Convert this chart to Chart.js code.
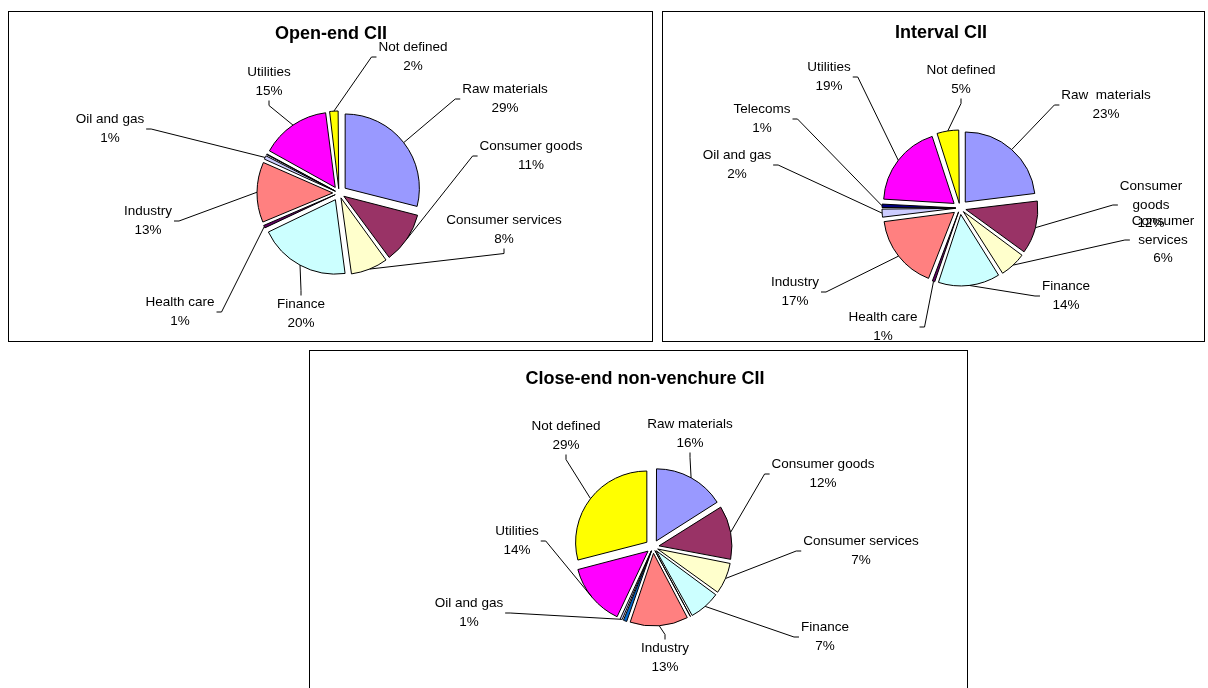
<!DOCTYPE html>
<html><head><meta charset="utf-8">
<script src="https://cdn.jsdelivr.net/npm/chart.js@4.4.1/dist/chart.umd.min.js"></script>
<style>
html,body{margin:0;padding:0;background:#fff;width:1208px;height:688px;overflow:hidden;}
.box{position:absolute;border:1px solid #000;box-sizing:border-box;}
canvas{position:absolute;left:0;top:0;}
</style></head><body>
<div class="box" style="left:8px;top:11px;width:645px;height:331px"></div>
<div class="box" style="left:662px;top:11px;width:543px;height:331px"></div>
<div class="box" style="left:309px;top:350px;width:659px;height:360px"></div>
<canvas id="c1" width="1208" height="688"></canvas>
<canvas id="c2" width="1208" height="688"></canvas>
<canvas id="c3" width="1208" height="688"></canvas>
<script>
// ---------- data ----------
const categories = ["Raw materials","Consumer goods","Consumer services","Finance","Health care","Industry","IT","Oil and gas","Telecoms","Utilities","Not defined"];
const openEndValues  = [29, 11, 8, 20, 0.8, 13, 0, 1, 0.4, 15, 2];
const intervalValues = [23, 12, 6, 14, 0.8, 17, 0, 2, 1, 19, 5];
const closeEndValues = [16, 12, 7, 7, 0.2, 13, 1, 0.7, 0, 14, 29];
const chartTitles = ["Open-end CII", "Interval CII", "Close-end non-venchure CII"];

// ---------- style / layout ----------
const sliceColors = ["#9999FF","#993366","#FFFFCC","#CCFFFF","#660066","#FF8080","#0066CC","#CCCCFF","#000080","#FF00FF","#FFFF00"];
const FONT = '"Liberation Sans", Arial, sans-serif';
const EXPLODE = 8;
const LH = 18.5;

const openEndLabels = [
  {i:10, x:413, y:57, side:'left'},
  {i:0, x:505, y:99, side:'left'},
  {i:1, x:531, y:156, side:'left'},
  {i:2, x:504, y:230, side:'bottom'},
  {i:3, x:301, y:314, side:'top'},
  {i:4, x:180, y:312, side:'right'},
  {i:5, x:148, y:221, side:'right'},
  {i:7, x:110, y:129, side:'right'},
  {i:9, x:269, y:82, side:'bottom'}
];
const intervalLabels = [
  {i:9, x:829, y:77, side:'right'},
  {i:10, x:961, y:80, side:'bottom'},
  {i:0, x:1106, y:105, side:'left', text:'Raw  materials'},
  {i:8, x:762, y:119, side:'right'},
  {i:7, x:737, y:165, side:'right'},
  {i:1, x:1151, y:205, side:'left', wrap:true},
  {i:2, x:1163, y:240, side:'left', wrap:true},
  {i:3, x:1066, y:296, side:'left'},
  {i:5, x:795, y:292, side:'right'},
  {i:4, x:883, y:327, side:'right'}
];
const closeEndLabels = [
  {i:10, x:566, y:436, side:'bottom'},
  {i:0, x:690, y:434, side:'bottom'},
  {i:1, x:823, y:474, side:'left'},
  {i:2, x:861, y:551, side:'left'},
  {i:3, x:825, y:637, side:'left'},
  {i:5, x:665, y:658, side:'top'},
  {i:9, x:517, y:541, side:'right'},
  {i:7, x:469, y:613, side:'right'}
];

function makePlugin(title, titlePos, labels, clip) {
  return {
    id: 'sliceLabels',
    afterDraw(chart) {
      const ctx = chart.ctx;
      const meta = chart.getDatasetMeta(0);
      const values = chart.data.datasets[0].data;
      const total = values.reduce((a, b) => a + b, 0);
      ctx.save();
      ctx.beginPath();
      ctx.rect(clip[0], clip[1], clip[2] - clip[0], clip[3] - clip[1]);
      ctx.clip();
      // title
      ctx.fillStyle = '#000';
      ctx.font = 'bold 18px ' + FONT;
      ctx.textAlign = 'center';
      ctx.textBaseline = 'middle';
      ctx.fillText(title, titlePos[0], titlePos[1]);
      // labels
      ctx.font = '13.5px ' + FONT;
      labels.forEach(L => {
        const el = meta.data[L.i];
        const name = L.text || chart.data.labels[L.i];
        const lines = (L.wrap ? name.split(' ') : [name]);
        lines.push(Math.round(values[L.i] / total * 100) + '%');
        const n = lines.length;
        let w = 0;
        lines.forEach(t => { w = Math.max(w, ctx.measureText(t).width); });
        const hw = w / 2, hh = n * LH / 2;
        const h = (el.startAngle + el.endAngle) / 2;
        const R = el.outerRadius + EXPLODE;
        const px = el.x + Math.cos(h) * R, py = el.y + Math.sin(h) * R;
        let ax = L.x, ay = L.y, kx, ky;
        if (L.side === 'left') { ax = L.x - hw - 2; kx = ax - 5; ky = ay; }
        else if (L.side === 'right') { ax = L.x + hw + 2; kx = ax + 5; ky = ay; }
        else if (L.side === 'top') { ay = L.y - hh; kx = ax; ky = ay - 5; }
        else { ay = L.y + hh; kx = ax; ky = ay + 5; }
        ctx.strokeStyle = '#000';
        ctx.lineWidth = 1;
        ctx.beginPath();
        ctx.moveTo(px, py);
        ctx.lineTo(kx, ky);
        ctx.lineTo(ax, ay);
        ctx.stroke();
        lines.forEach((t, k) => {
          ctx.fillText(t, L.x, L.y + (k - (n - 1) / 2) * LH);
        });
      });
      ctx.restore();
    }
  };
}

function makeChart(id, values, cx, cy, r, title, titlePos, labels, clip) {
  const W = 1208, H = 688, half = 100;
  return new Chart(document.getElementById(id), {
    type: 'pie',
    data: {
      labels: categories,
      datasets: [{
        data: values,
        backgroundColor: sliceColors,
        borderColor: '#000',
        borderWidth: 1,
        radius: r,
        offset: (c) => {
          const d = c.dataset.data;
          const tot = d.reduce((a, b) => a + b, 0);
          const circ = (d[c.dataIndex] || 0) / tot * Math.PI * 2;
          const fix = 1 - Math.sin(Math.min(Math.PI, circ));
          return 4 * EXPLODE / (1 + fix);
        }
      }]
    },
    options: {
      responsive: false,
      animation: false,
      events: [],
      layout: { padding: { left: cx - half, right: W - cx - half, top: cy - half, bottom: H - cy - half } },
      plugins: { legend: { display: false }, tooltip: { enabled: false }, title: { display: false } }
    },
    plugins: [makePlugin(title, titlePos, labels, clip)]
  });
}

makeChart('c1', openEndValues, 339, 193, 74, chartTitles[0], [331, 34], openEndLabels, [9, 12, 652, 341]);
makeChart('c2', intervalValues, 960, 208, 70, chartTitles[1], [941, 33], intervalLabels, [663, 12, 1204, 341]);
makeChart('c3', closeEndValues, 653, 547, 71, chartTitles[2], [645, 379], closeEndLabels, [310, 351, 967, 700]);
</script>
</body></html>
